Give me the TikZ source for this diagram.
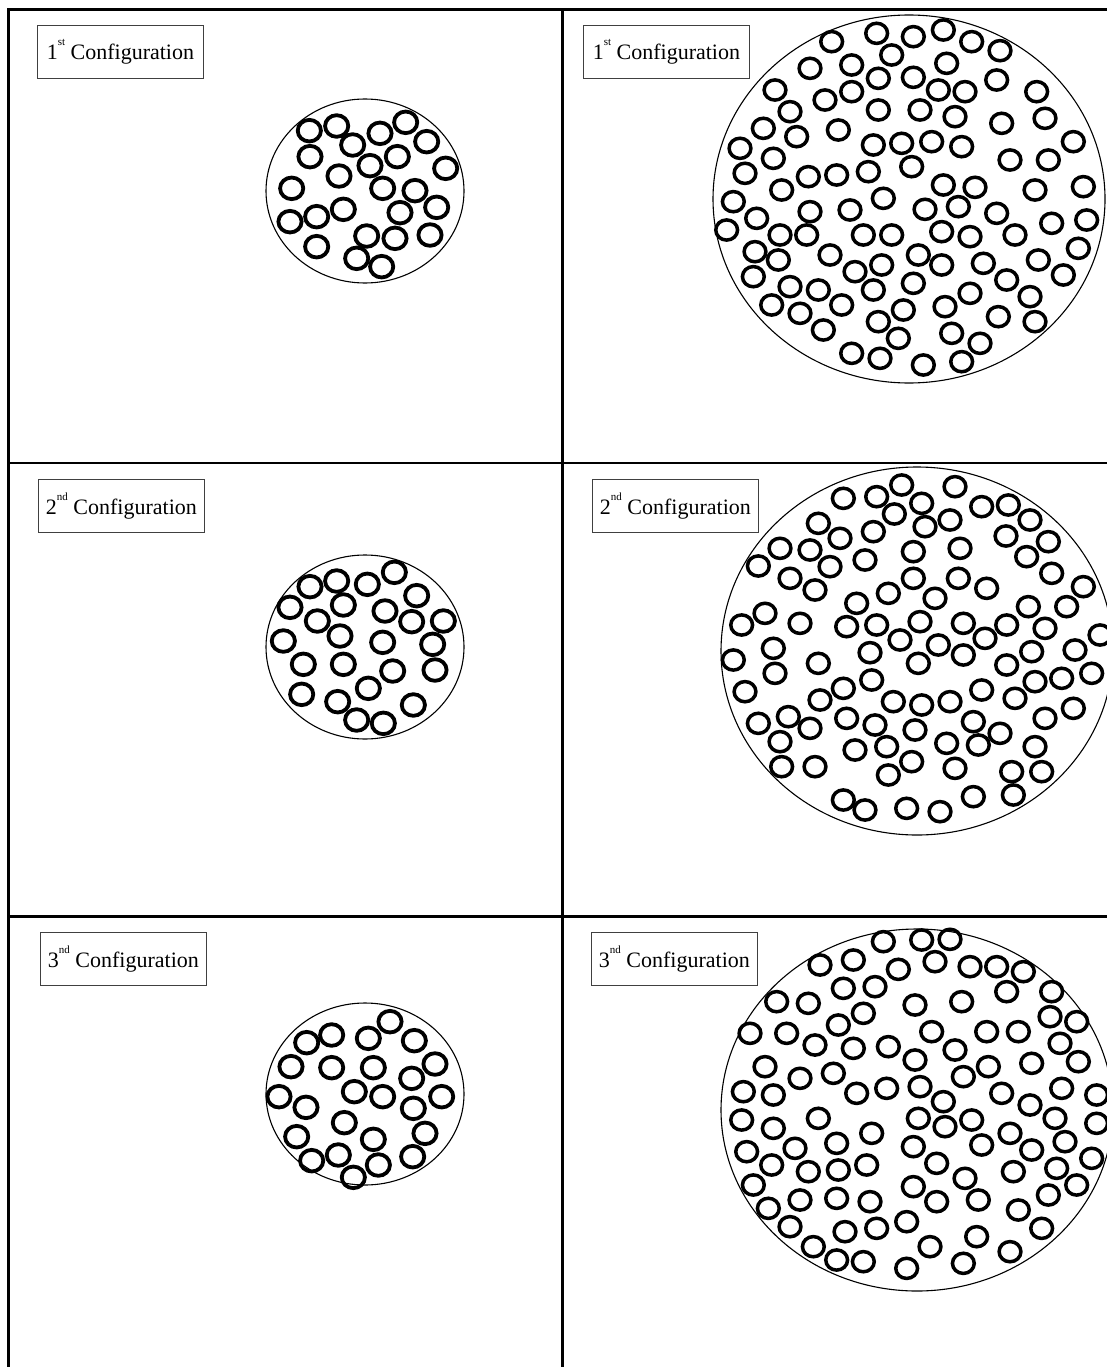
\documentclass[tikz,border=0pt]{standalone}
\usepackage{fontspec}
\setmainfont{Liberation Serif}
\newcommand{\ordsup}[1]{\raisebox{0.62em}{\fontsize{11}{12}\selectfont #1}}
\begin{document}
\begin{tikzpicture}[x=1pt,y=-1pt,
  gridline/.style={line width=2.7pt,line cap=rect},
  outline/.style={line width=1.1pt},
  ringL/.style={line width=3.8pt},
  ringR/.style={line width=3.5pt},
  label/.style={draw=black!75,line width=0.9pt,anchor=north west,inner xsep=4pt,
     minimum width=166pt,minimum height=53pt,font=\fontsize{22}{26}\selectfont}]
\useasboundingbox (0,0) rectangle (1107,1367);
\clip (0,0) rectangle (1107,1367);
\fill[white] (0,0) rectangle (1107,1367);
% table grid
\draw[gridline] (8.7,9.7) -- (1125,9.7);
\draw[gridline] (8.7,9.7) -- (8.7,1380);
\draw[gridline] (562.3,9.7) -- (562.3,1380);
\draw[gridline] (8.7,463) -- (1125,463);
\draw[gridline] (8.7,916.7) -- (1125,916.7);
% labels
\node[label] (l1) at (37,25) {1\ordsup{st} Configuration};
\node[label] (r1) at (583,25) {1\ordsup{st} Configuration};
\node[label] (l2) at (38,479) {2\ordsup{nd} Configuration};
\node[label] (r2) at (592,479) {2\ordsup{nd} Configuration};
\node[label] (l3) at (40,932) {3\ordsup{nd} Configuration};
\node[label] (r3) at (591,932) {3\ordsup{nd} Configuration};
% outer circles
\draw[outline] (365,191) ellipse [x radius=99, y radius=92];
\draw[outline] (365,647) ellipse [x radius=99, y radius=92];
\draw[outline] (365,1094) ellipse [x radius=99, y radius=91];
\draw[outline] (909,199) ellipse [x radius=196, y radius=184];
\draw[outline] (917,651) ellipse [x radius=196, y radius=184];
\draw[outline] (917,1110) ellipse [x radius=196, y radius=181];
% rings, left column
\foreach \a/\b in {148/92,230/78,437/67,360/100,278/135,500/125,150/170,412/170,330/197,557/205,237/228,95/265,368/265,465/272,250/328,170/350,420/338,530/322,90/365,320/408,405/415,510/405,170/440,290/475,365/500}
  \draw[ringL] ({260+\a/3},{100+\b/3}) ellipse [x radius=11.6, y radius=10.8];
\foreach \a/\b in {150/95,230/78,322/88,403/52,90/157,250/150,470/122,375/168,172/198,455/200,550/198,240/243,70/258,368/262,518/268,130/328,250/328,398/348,525/345,325/400,125/418,233/440,460/450,290/495,370/505}
  \draw[ringL] ({260+\a/3},{555+\b/3}) ellipse [x radius=11.6, y radius=10.8];
\foreach \a/\b in {140/128,215/105,325/115,390/65,463/122,93/200,215/203,340/203,455/235,525/192,283/275,368/290,57/290,545/290,138/322,460/325,253/368,110/410,340/418,495/400,155/482,235/465,355/495,458/470,280/532}
  \draw[ringL] ({260+\a/3},{1000+\b/3}) ellipse [x radius=11.6, y radius=10.8];
% rings, right column
\foreach \a/\b in {395/125,530/100,640/110,730/90,815/125,900/152,330/205,455/195,575/165,740/190,535/235,640/232,890/240,225/270,375/300,455/275,715/270,795/275,1010/275,270/335,535/330,660/330,765/350,905/370,1035/355,190/385,415/390,290/410,520/435,605/430,695/425,785/440,1120/425,120/445,220/475,635/500,930/480,1045/480,135/520,325/530,410/525,505/515,730/555,825/562,1005/570,1150/560,245/570,550/595,100/605,330/635,450/630,675/628,775/620,890/640,1160/660,1055/670,170/655,240/705,320/705,490/705,575/705,725/695,810/710,945/705,1135/745,80/690,165/755,235/780,390/765,545/795,655/765,725/795,850/790,1015/780,1090/825,160/830,465/815,270/860,355/870,520/870,640/850,810/880,920/840,990/890,215/915,300/940,425/915,610/930,735/920,370/990,535/965,895/950,1005/965,595/1015,755/1000,840/1030,455/1060,540/1075,670/1095,785/1085}
  \draw[ringR] ({700+\a/3},{\b/3}) ellipse [x radius=10.9, y radius=10.1];
\foreach \a/\b in {430/115,530/110,605/75,665/130,765/80,845/140,925/135,990/180,355/190,583/162,675/200,750/180,918/228,1045/245,240/265,330/270,420/235,520/215,640/275,780/265,980/290,175/318,390/320,495/300,270/355,345/390,640/355,775/355,860/385,1055/340,1150/380,470/430,565/400,705/415,985/440,1100/440,195/460,125/495,300/490,440/500,530/495,660/485,790/490,855/535,920/495,1035/505,1200/525,220/565,100/600,355/610,510/578,600/540,715/555,790/585,655/610,920/615,995/575,1125/570,1175/640,225/640,135/695,430/685,515/660,1005/665,1085/655,845/690,360/720,580/725,665/735,750/725,945/715,1120/745,265/770,175/790,330/805,440/775,525/795,645/810,820/785,1035/775,900/820,240/845,465/870,560/860,740/850,835/855,1005/860,245/920,345/920,635/905,765/925,565/945,935/935,1025/935,430/1020,495/1050,620/1045,720/1055,820/1010,940/1005}
  \draw[ringR] ({700+\a/3},{460+\b/3}) ellipse [x radius=10.9, y radius=10.1];
\foreach \a/\b in {550/35,665/30,750/28,360/105,460/90,595/118,705/95,810/110,890/110,970/125,230/215,325/220,430/175,525/170,645/225,785/215,920/185,1055/185,150/310,260/310,415/285,490/250,695/305,860/305,955/305,1050/260,1130/275,345/345,460/355,565/350,765/360,1080/340,195/410,300/445,400/430,645/390,865/410,995/400,1135/395,130/485,220/495,470/490,560/475,660/470,790/440,905/490,1085/475,1190/495,125/570,355/565,220/595,655/565,730/515,735/590,815/570,990/525,1065/565,1190/580,140/665,285/655,410/640,515/610,640/650,845/645,930/610,995/660,1095/635,215/705,325/725,415/720,500/705,710/700,940/725,1070/715,1175/685,160/765,300/810,410/805,510/815,640/770,795/745,1045/795,1130/765,205/835,710/815,835/810,955/840,270/890,435/905,530/895,620/875,830/920,1025/895,340/950,410/990,490/995,690/950,930/965,620/1015,790/1000}
  \draw[ringR] ({700+\a/3},{930+\b/3}) ellipse [x radius=10.9, y radius=10.1];
\end{tikzpicture}
\end{document}
